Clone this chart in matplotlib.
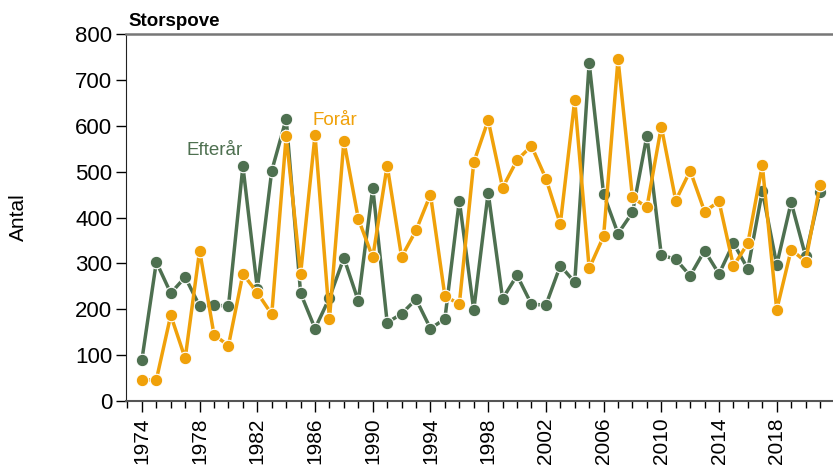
import matplotlib
matplotlib.use("Agg")
import matplotlib.pyplot as plt
from matplotlib.ticker import MultipleLocator

plt.rcParams['font.family'] = ['Liberation Sans', 'DejaVu Sans']

years = list(range(1974, 2022))
efterar = [90, 303, 235, 270, 207, 209, 207, 512, 245, 502, 615, 235, 158, 225,
           312, 218, 465, 171, 190, 222, 158, 179, 437, 198, 454, 223, 274, 211,
           209, 295, 259, 737, 451, 365, 411, 578, 318, 309, 273, 328, 277, 344,
           288, 458, 297, 433, 316, 455]
forar = [46, 46, 187, 93, 328, 144, 121, 277, 236, 189, 578, 277, 580, 179,
         567, 397, 313, 513, 314, 372, 450, 229, 211, 520, 612, 465, 525, 556,
         485, 386, 656, 289, 359, 745, 444, 422, 598, 437, 502, 413, 435, 294,
         344, 514, 199, 330, 304, 471]
yticks = [0, 100, 200, 300, 400, 500, 600, 700, 800]
xticks = list(range(1974, 2022, 4))

green = '#4e7050'
orange = '#f0a10a'

fig = plt.figure(figsize=(8.33, 4.65), dpi=100)
ax = fig.add_axes([0.1513, 0.1376, 0.8487, 0.7893])

ax.plot(years, efterar, color=green, lw=2.5, marker='o', ms=9,
        markeredgecolor='white', markeredgewidth=0.8, zorder=3)
ax.plot(years, forar, color=orange, lw=2.5, marker='o', ms=9,
        markeredgecolor='white', markeredgewidth=0.8, zorder=4)

ax.set_xlim(1972.9, 2021.9)
ax.set_ylim(0, 800)
ax.set_yticks(yticks)
ax.set_yticklabels([str(v) for v in yticks], fontsize=16)
ax.set_xticks(xticks)
ax.set_xticklabels([str(v) for v in xticks], rotation=90, fontsize=15)
ax.xaxis.set_minor_locator(MultipleLocator(1))
ax.tick_params(axis='y', length=7, width=1, pad=3)
ax.tick_params(axis='x', which='major', length=8, width=1, pad=4)
ax.tick_params(axis='x', which='minor', length=5, width=1)

ax.spines['right'].set_visible(False)
ax.spines['top'].set_color('#777777')
ax.spines['top'].set_linewidth(1.8)
ax.spines['left'].set_color('#222222')
ax.spines['bottom'].set_color('#555555')
ax.spines['bottom'].set_linewidth(1.5)

ax.set_ylabel('Antal', fontsize=15, labelpad=34)
ax.text(0.003, 1.012, 'Storspove', transform=ax.transAxes, fontsize=13.5,
        fontweight='bold', ha='left', va='bottom')
ax.text(1977.1, 545, 'Efterår', color=green, fontsize=13.5, ha='left', va='center')
ax.text(1985.8, 612, 'Forår', color=orange, fontsize=13.5, ha='left', va='center')

fig.savefig('out.png', dpi=100)
